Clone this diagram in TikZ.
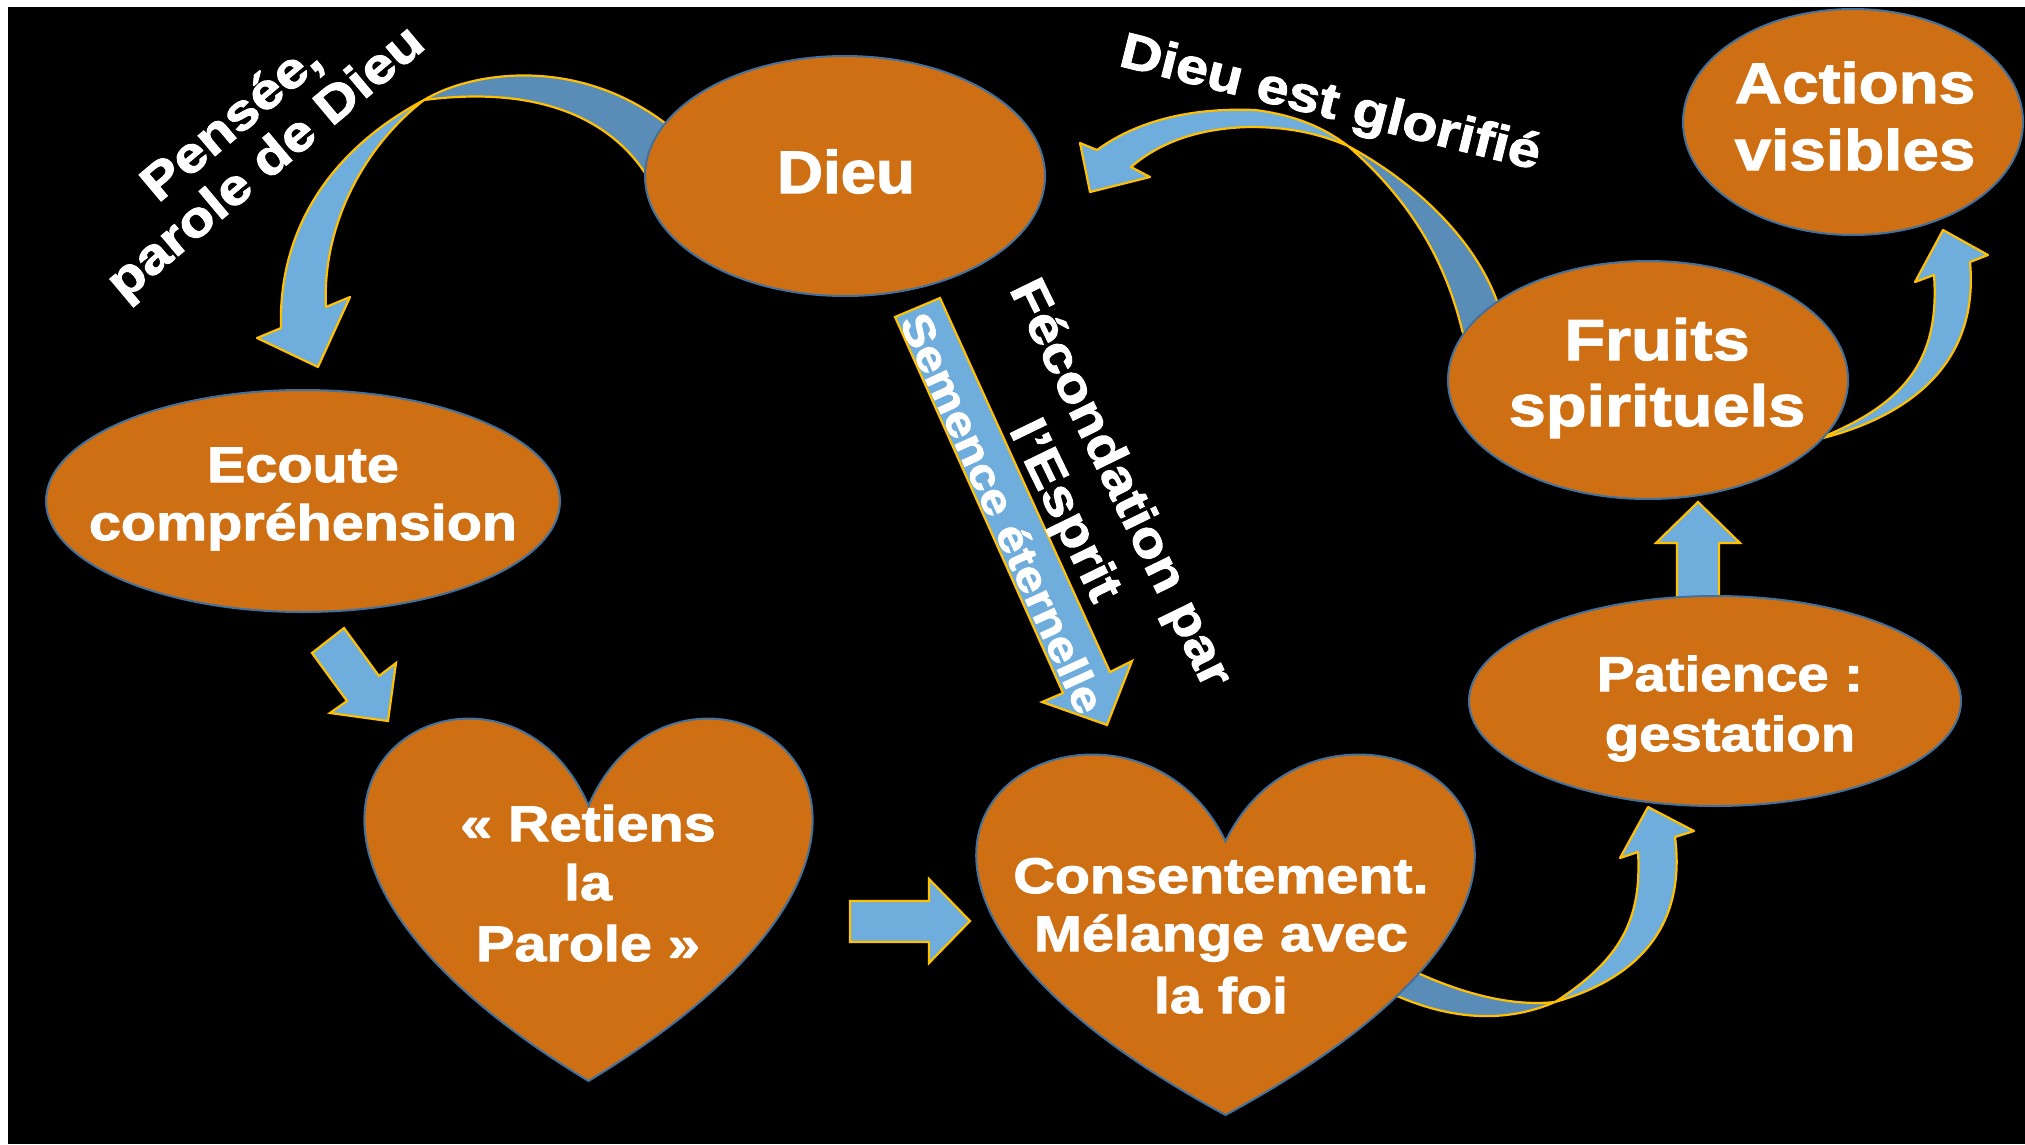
\documentclass[tikz,border=0pt]{standalone}
\usepackage{fontspec}
\setmainfont{Liberation Sans}
\newfontfamily\wf{Liberation Sans Bold}[FakeStretch=1.15,FakeBold=2]
\newfontfamily\wfd{Liberation Sans Bold}[FakeStretch=1.06,FakeBold=2]
\usetikzlibrary{shapes.geometric}
\definecolor{orng}{HTML}{CF6F14}
\definecolor{bord}{HTML}{41719C}
\definecolor{lblue}{HTML}{6FADDD}
\definecolor{dblue}{HTML}{5A8CB8}
\definecolor{gold}{HTML}{FFC000}
\begin{document}
\begin{tikzpicture}[x=1pt,y=-1pt,
  orshape/.style={draw=bord,line width=2pt,fill=orng},
  ell/.style={orshape,ellipse,inner sep=0pt},
  band/.style={fill=lblue,draw=gold,line width=2.2pt,line join=round},
  dband/.style={fill=dblue,draw=gold,line width=2.2pt,line join=round},
  blk/.style={fill=lblue,draw=gold,line width=2.2pt,line join=miter},
  lbl/.style={text=white,inner sep=0pt},
  ln/.style={lbl,anchor=base},
]
\useasboundingbox (0,0) rectangle (2025,1144);
\fill[white] (0,0) rectangle (2025,1144);
\fill[black] (8,7) rectangle (2025,1144);

% ---- curved arrow Dieu -> Ecoute
\filldraw[dband] (424,100) .. controls (470,72) and (575,55) .. (665,123) -- (690,150) -- (660,190) -- (645,173) .. controls (610,120) and (540,85) .. (424,100) -- cycle;
\filldraw[band] (424,100) .. controls (330,150) and (278,230) .. (281,328) -- (257,338) -- (318,367) -- (350,297) -- (326,307) .. controls (322,230) and (360,150) .. (424,100) -- cycle;

% ---- curved arrow Fruits -> Dieu
\filldraw[dband] (1348,146) .. controls (1420,185) and (1480,245) .. (1500,310) -- (1470,352) -- (1462,330) .. controls (1445,260) and (1410,200) .. (1348,146) -- cycle;
\filldraw[band] (1097,150) .. controls (1145,115) and (1205,108) .. (1255,110) .. controls (1295,115) and (1325,128) .. (1348,146) .. controls (1320,134) and (1290,127) .. (1250,127) .. controls (1200,128) and (1160,142) .. (1131,167) -- (1150,177) -- (1090,192) -- (1080,143) -- cycle;

% ---- curved arrow Fruits -> Actions
\filldraw[band] (1815,440) .. controls (1900,420) and (1980,370) .. (1970,262) -- (1988,255) -- (1943,230) -- (1915,282) -- (1934,275) .. controls (1940,360) and (1905,405) .. (1815,440) -- cycle;

% ---- curved arrow Consentement -> Patience
\filldraw[dband] (1555,1002) .. controls (1500,1008) and (1440,985) .. (1395,962) -- (1380,990) -- (1397,996) .. controls (1430,1010) and (1490,1030) .. (1555,1002) -- cycle;
\filldraw[band] (1555,1002) .. controls (1650,975) and (1685,915) .. (1675,837) -- (1694,831) -- (1648,807) -- (1620,858) -- (1638,852) .. controls (1642,920) and (1620,960) .. (1555,1002) -- cycle;

% ---- straight block arrows
\filldraw[blk] (312,653) -- (344,628) -- (379,676) -- (396,663) -- (388,721) -- (330,713) -- (347,701) -- cycle;
\filldraw[blk] (850,901) -- (929,901) -- (929,879) -- (970,921) -- (929,963) -- (929,942) -- (850,942) -- cycle;
\filldraw[blk] (1677,610) -- (1677,543) -- (1656,543) -- (1698,502) -- (1740,543) -- (1719,543) -- (1719,610) -- cycle;
\filldraw[blk] (895,317) -- (940,298) -- (1110,672) -- (1132,661) -- (1107,725) -- (1042,702) -- (1063,693) -- cycle;

% ---- shapes
\node[ell,minimum width=400pt,minimum height=240pt] (dieu) at (845,176) {};
\node[ell,minimum width=514pt,minimum height=222pt] (ecoute) at (303,501) {};
\node[ell,minimum width=492pt,minimum height=210pt] (patience) at (1715,701) {};
\node[ell,minimum width=400pt,minimum height=238pt] (fruits) at (1648,380) {};
\node[ell,minimum width=340pt,minimum height=226pt] (actions) at (1853,122) {};
\filldraw[orshape] (588.5,805.75) .. controls (681.2,591.7) and (1042.8,805.75) .. (588.5,1081) .. controls (134.2,805.75) and (495.8,591.7) .. (588.5,805.75) -- cycle;
\coordinate (retiens) at (588.5,880);
\filldraw[orshape] (1225.5,841.25) .. controls (1328.6,628.3) and (1730.8,841.25) .. (1225.5,1115) .. controls (720.2,841.25) and (1122.4,628.3) .. (1225.5,841.25) -- cycle;
\coordinate (consent) at (1225.5,930);

% ---- texts in shapes
\node[ln,font=\wfd\fontsize{60}{72}\selectfont] (tdieu) at (846,193) {Dieu};
\node[ln,font=\wf\fontsize{50}{60}\selectfont] (tec1) at (303,482) {Ecoute};
\node[ln,font=\wf\fontsize{50}{60}\selectfont] (tec2) at (303,540) {compréhension};
\node[ln,font=\wf\fontsize{50}{60}\selectfont] (tre1) at (588,841) {« Retiens};
\node[ln,font=\wf\fontsize{50}{60}\selectfont] (tre2) at (588,900) {la};
\node[ln,font=\wf\fontsize{50}{60}\selectfont] (tre3) at (588,961) {Parole »};
\node[ln,font=\wf\fontsize{50}{60}\selectfont] (tco1) at (1221,893) {Consentement.};
\node[ln,font=\wf\fontsize{50}{60}\selectfont] (tco2) at (1221,951) {Mélange avec};
\node[ln,font=\wf\fontsize{50}{60}\selectfont] (tco3) at (1221,1013) {la foi};
\node[ln,font=\wf\fontsize{49}{60}\selectfont] (tpa1) at (1730,691) {Patience :};
\node[ln,font=\wf\fontsize{49}{60}\selectfont] (tpa2) at (1730,751) {gestation};
\node[ln,font=\wf\fontsize{58}{68}\selectfont] (tfr1) at (1657,360) {Fruits};
\node[ln,font=\wf\fontsize{58}{68}\selectfont] (tfr2) at (1657,426) {spirituels};
\node[ln,font=\wf\fontsize{57}{68}\selectfont] (tac1) at (1855,103) {Actions};
\node[ln,font=\wf\fontsize{57}{68}\selectfont] (tac2) at (1855,170) {visibles};

% ---- rotated labels
\node[lbl,font=\wf\fontsize{50}{53}\selectfont,rotate=40,align=center] (tpen) at (250,144) {Pensée,\\parole de Dieu};
\node[lbl,font=\wf\fontsize{50}{60}\selectfont,rotate=-14] (tglo) at (1330,105) {Dieu est glorifié};
\node[lbl,font=\wf\fontsize{50}{62}\selectfont,rotate=-64,align=center] (tfec) at (1091,498) {Fécondation par\\l’Esprit};
\node[lbl,font=\wf\fontsize{43}{50}\selectfont,rotate=-65.6] (tsem) at (1003,513) {Semence éternelle};
\end{tikzpicture}
\end{document}
